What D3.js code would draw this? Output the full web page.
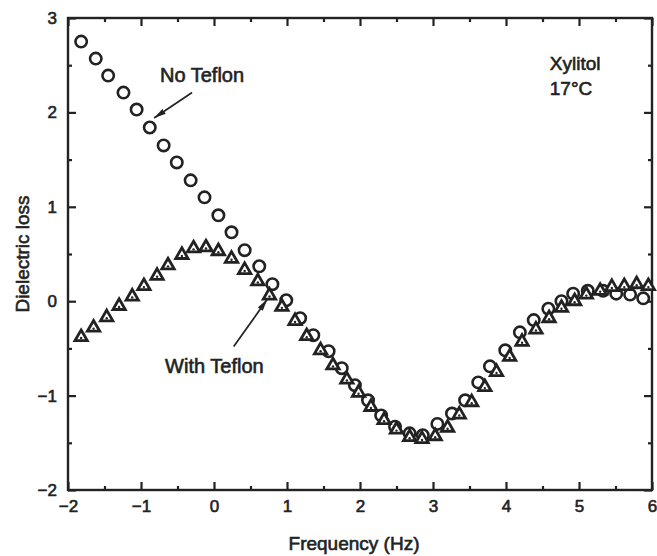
<!DOCTYPE html>
<html>
<head>
<meta charset="utf-8">
<script src="https://cdn.jsdelivr.net/npm/d3@7"></script>
<style>
	body { margin: 0; background: #fff; }
	svg text { font-family: "Liberation Sans", Arial, Helvetica, sans-serif; fill: #222; stroke: #222; stroke-width: 0.6px; }
</style>
</head>
<body>
<div id="chart"></div>
<script>
// values: log frequency vs dielectric loss
const noTeflonFreq = [-1.82, -1.62, -1.45, -1.24, -1.06, -0.88, -0.69, -0.51, -0.32, -0.13, 0.06, 0.24, 0.42, 0.62,
	0.80, 0.99, 1.18, 1.36, 1.57, 1.75, 1.93, 2.11, 2.29, 2.48, 2.68, 2.86, 3.06, 3.26, 3.44, 3.62, 3.78, 3.99,
	4.19, 4.38, 4.58, 4.76, 4.92, 5.12, 5.33, 5.51, 5.70, 5.88];
const noTeflonLoss = [2.75, 2.57, 2.39, 2.21, 2.03, 1.84, 1.65, 1.47, 1.28, 1.10, 0.91, 0.73, 0.54, 0.37,
	0.18, 0.01, -0.18, -0.36, -0.53, -0.71, -0.89, -1.05, -1.21, -1.33, -1.40, -1.42, -1.30, -1.19, -1.05, -0.86, -0.69, -0.52,
	-0.33, -0.20, -0.08, 0.00, 0.08, 0.11, 0.11, 0.08, 0.07, 0.03];

const withTeflonFreq = [-1.82, -1.65, -1.47, -1.30, -1.12, -0.96, -0.78, -0.63, -0.44, -0.28, -0.11, 0.06, 0.24, 0.42,
	0.60, 0.76, 0.93, 1.11, 1.27, 1.46, 1.63, 1.82, 1.98, 2.15, 2.33, 2.50, 2.68, 2.85, 3.03, 3.20, 3.36, 3.53,
	3.71, 3.87, 4.05, 4.22, 4.41, 4.59, 4.76, 4.94, 5.10, 5.29, 5.45, 5.62, 5.79, 5.95];
const withTeflonLoss = [-0.38, -0.28, -0.17, -0.05, 0.05, 0.16, 0.27, 0.38, 0.49, 0.56, 0.57, 0.53, 0.45, 0.33,
	0.21, 0.06, -0.06, -0.21, -0.37, -0.52, -0.68, -0.83, -0.97, -1.12, -1.26, -1.36, -1.44, -1.46, -1.43, -1.34, -1.20, -1.07,
	-0.91, -0.75, -0.59, -0.43, -0.30, -0.18, -0.07, 0.00, 0.07, 0.11, 0.15, 0.16, 0.18, 0.16];

const xTicks = [-2, -1, 0, 1, 2, 3, 4, 5, 6];
const xMinorTicks = [-1.5, -0.5, 0.5, 1.5, 2.5, 3.5, 4.5, 5.5];
const yTicks = [-2, -1, 0, 1, 2, 3];
const yMinorTicks = [-1.5, -0.5, 0.5, 1.5, 2.5];

const xTitle = "Frequency (Hz)";
const yTitle = "Dielectric loss";
const sampleLines = ["Xylitol", "17°C"];
const noTeflonLabel = "No Teflon";
const withTeflonLabel = "With Teflon";

const width = 657, height = 556;
const margin = {left: 68, right: 5, top: 18, bottom: 66};
const ink = "#222";

const x = d3.scaleLinear()
	.domain([-2, 6])
	.range([margin.left, width - margin.right]);

const y = d3.scaleLinear()
	.domain([-2, 3])
	.range([height - margin.bottom, margin.top]);

const svg = d3.select("#chart")
	.append("svg")
	.attr("width", width)
	.attr("height", height);

svg.append("defs").append("marker")
	.attr("id", "arrow")
	.attr("viewBox", "0 0 12 6")
	.attr("refX", 12).attr("refY", 3)
	.attr("markerWidth", 12).attr("markerHeight", 6)
	.attr("markerUnits", "userSpaceOnUse")
	.attr("orient", "auto")
	.append("path")
	.attr("d", "M0,0L12,3L0,6Z")
	.attr("fill", ink);

// minus sign like the print
const fmt = d => d < 0 ? "\u2212" + Math.abs(d) : String(d);

function axis(gen, transform, values, size, padding) {
	const g = svg.append("g")
		.attr("transform", transform)
		.call(gen.tickValues(values).tickSize(size).tickPadding(padding || 0)
			.tickFormat(padding ? fmt : ""));
	g.select(".domain").remove();
	g.selectAll("line").attr("stroke", ink).attr("stroke-width", 2.2);
	g.selectAll("text").attr("font-size", 17);
	return g;
}

const plotBottom = height - margin.bottom;
const plotRight = width - margin.right;

// inward-pointing ticks on all four sides
axis(d3.axisBottom(x), `translate(0,${plotBottom})`, xTicks, -8, 10);
axis(d3.axisBottom(x), `translate(0,${plotBottom})`, xMinorTicks, -4);
axis(d3.axisTop(x), `translate(0,${margin.top})`, xTicks, -8);
axis(d3.axisTop(x), `translate(0,${margin.top})`, xMinorTicks, -4);
axis(d3.axisLeft(y), `translate(${margin.left},0)`, yTicks, -8, 11);
axis(d3.axisLeft(y), `translate(${margin.left},0)`, yMinorTicks, -4);
axis(d3.axisRight(y), `translate(${plotRight},0)`, yTicks, -8);
axis(d3.axisRight(y), `translate(${plotRight},0)`, yMinorTicks, -4);

svg.append("rect")
	.attr("x", margin.left)
	.attr("y", margin.top)
	.attr("width", plotRight - margin.left)
	.attr("height", plotBottom - margin.top)
	.attr("fill", "none")
	.attr("stroke", ink)
	.attr("stroke-width", 2.4);

// axis titles
svg.append("text")
	.attr("x", (margin.left + plotRight) / 2 - 6)
	.attr("y", height - 6)
	.attr("text-anchor", "middle")
	.attr("font-size", 19)
	.text(xTitle);

svg.append("text")
	.attr("transform", `translate(29,${(margin.top + plotBottom) / 2}) rotate(-90)`)
	.attr("text-anchor", "middle")
	.attr("font-size", 19)
	.text(yTitle);

// no teflon: open circles
const noTeflon = noTeflonFreq.map((f, i) => ({f: f, v: noTeflonLoss[i]}));
svg.append("g")
	.selectAll("circle")
	.data(noTeflon).enter()
	.append("circle")
	.attr("cx", d => x(d.f))
	.attr("cy", d => y(d.v))
	.attr("r", 5.7)
	.attr("fill", "#fff")
	.attr("stroke", ink)
	.attr("stroke-width", 2.6);

// with teflon: triangles with a dot in the middle
const withTeflon = withTeflonFreq.map((f, i) => ({f: f, v: withTeflonLoss[i]}));
const tri = svg.append("g")
	.selectAll("g")
	.data(withTeflon).enter()
	.append("g")
	.attr("transform", d => `translate(${x(d.f)},${y(d.v)})`);

tri.append("path")
	.attr("d", d3.symbol(d3.symbolTriangle, 66))
	.attr("fill", "#fff")
	.attr("stroke", ink)
	.attr("stroke-width", 2.8)
	.attr("stroke-linejoin", "miter");

tri.append("circle")
	.attr("cy", 1)
	.attr("r", 1.2)
	.attr("fill", ink);

// annotations
svg.append("text")
	.attr("x", x(-0.74))
	.attr("y", y(2.32))
	.attr("font-size", 20)
	.text(noTeflonLabel);

svg.append("line")
	.attr("x1", x(-0.30)).attr("y1", y(2.21))
	.attr("x2", x(-0.82)).attr("y2", y(1.94))
	.attr("stroke", ink)
	.attr("stroke-width", 1.7)
	.attr("marker-end", "url(#arrow)");

svg.append("text")
	.attr("x", x(-0.67))
	.attr("y", y(-0.76))
	.attr("font-size", 20)
	.text(withTeflonLabel);

svg.append("line")
	.attr("x1", x(0.27)).attr("y1", y(-0.48))
	.attr("x2", x(0.73)).attr("y2", y(0.02))
	.attr("stroke", ink)
	.attr("stroke-width", 1.7)
	.attr("marker-end", "url(#arrow)");

svg.append("g")
	.selectAll("text")
	.data(sampleLines).enter()
	.append("text")
	.attr("x", x(4.60))
	.attr("y", (d, i) => y(2.45) + i * 25)
	.attr("font-size", 19)
	.text(d => d);
</script>
</body>
</html>
